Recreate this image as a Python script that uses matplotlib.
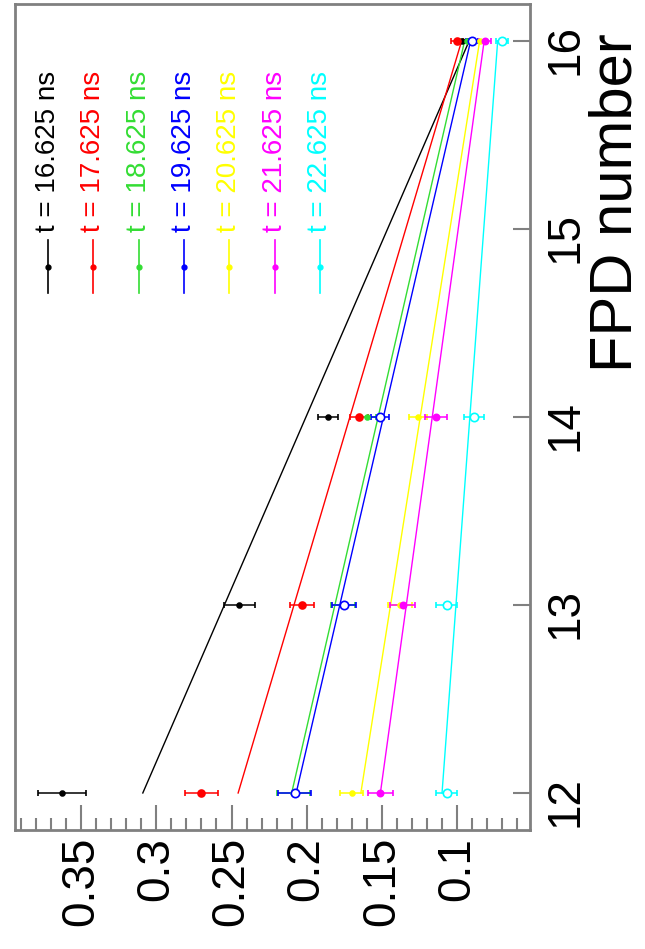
import numpy as np
import matplotlib.pyplot as plt
from matplotlib.ticker import MultipleLocator

plt.rcParams['font.family'] = ['Liberation Sans', 'DejaVu Sans']

# FPD positions and time-slice labels
fpd = [12, 13, 14, 16]
times = ['16.625', '17.625', '18.625', '19.625', '20.625', '21.625', '22.625']
colors = ['black', '#ff0000', '#33dd33', '#0000ff', '#ffff00', '#ff00ff', '#00ffff']

# measured values per time slice (at FPD 12, 13, 14, 16)
v_black = [0.363, 0.245, 0.186, 0.097]
v_red = [0.270, 0.203, 0.165, 0.100]
v_green = [0.209, 0.176, 0.160, 0.0935]
v_blue = [0.208, 0.175, 0.151, 0.090]
v_yellow = [0.170, 0.138, 0.126, 0.0847]
v_magenta = [0.151, 0.136, 0.114, 0.0814]
v_cyan = [0.107, 0.107, 0.089, 0.0703]

# errors
e_black = [0.016, 0.0103, 0.0068, 0.004]
e_red = [0.011, 0.008, 0.006, 0.004]
e_green = [0.011, 0.008, 0.006, 0.004]
e_blue = [0.011, 0.008, 0.006, 0.004]
e_yellow = [0.0077, 0.008, 0.0057, 0.004]
e_magenta = [0.0083, 0.0083, 0.0073, 0.004]
e_cyan = [0.0067, 0.0072, 0.0067, 0.004]

# fit lines, value at FPD 12 and FPD 16
fit_x = [12, 16]
f_black = [0.309, 0.092]
f_red = [0.2456, 0.097]
f_green = [0.210, 0.095]
f_blue = [0.207, 0.091]
f_yellow = [0.164, 0.085]
f_magenta = [0.151, 0.082]
f_cyan = [0.110, 0.073]

vals = [v_black, v_red, v_green, v_blue, v_yellow, v_magenta, v_cyan]
errs = [e_black, e_red, e_green, e_blue, e_yellow, e_magenta, e_cyan]
fits = [f_black, f_red, f_green, f_blue, f_yellow, f_magenta, f_cyan]
# marker style: (marker size, filled)
mstyle = [(3.5, True), (5, True), (3.5, True), (6, False), (3.5, True), (4.5, True), (6, False)]

fig = plt.figure(figsize=(6.45, 9.49), dpi=100)
ax = fig.add_axes([15 / 645, 1 - 830 / 949, 515 / 645, 826 / 949])

frame = '#808080'

# the graph is drawn turned on its side: FPD number runs upwards, value runs right-to-left
for v, e, f, c, (ms, filled) in zip(vals, errs, fits, colors, mstyle):
    ax.plot(f, fit_x, color=c, lw=1.0, zorder=2)
    ax.errorbar(v, fpd, xerr=e, fmt='o', color=c, ms=ms,
                mfc=c if filled else 'white', mec=c, mew=1.2,
                elinewidth=1.1, capsize=2.5, capthick=1.1, zorder=3)

ax.set_xlim(0.394, 0.0515)
ax.set_ylim(11.803, 16.197)

ax.set_xticks([0.35, 0.3, 0.25, 0.2, 0.15, 0.1])
ax.set_xticklabels(['0.35', '0.3', '0.25', '0.2', '0.15', '0.1'])
ax.xaxis.set_minor_locator(MultipleLocator(0.01))
ax.tick_params(axis='x', which='major', direction='in', length=18, width=1.5,
               color=frame, labelsize=33, labelrotation=90, pad=5)
ax.tick_params(axis='x', which='minor', direction='in', length=8.5, width=1.5, color=frame)

ax.yaxis.tick_right()
ax.set_yticks([12, 13, 14, 15, 16])
ax.tick_params(axis='y', which='major', direction='in', length=12, width=1.5,
               color=frame, labelsize=33, labelrotation=90, pad=10)
ax.tick_params(axis='y', which='minor', length=0)

for s in ax.spines.values():
    s.set_color(frame)
    s.set_linewidth(2)

fig.text(643 / 645, 1 - 372 / 949, 'FPD number', rotation=90, rotation_mode='anchor',
         ha='left', va='bottom', fontsize=43)

# legend, one column per time slice
for i, (t, c, (ms, filled)) in enumerate(zip(times, colors, mstyle)):
    xf = (48 - 15 + i * 45.3) / 515
    ax.plot([xf, xf], [0.650, 0.714], color=c, lw=1.2, transform=ax.transAxes)
    ax.plot([xf], [0.682], 'o', color=c, ms=3.5, transform=ax.transAxes)
    ax.text(xf, 0.724, 't = ' + t + ' ns', transform=ax.transAxes, rotation=90,
            rotation_mode='anchor', ha='left', va='center', color=c, fontsize=20)

fig.savefig('out.png', dpi=100)
